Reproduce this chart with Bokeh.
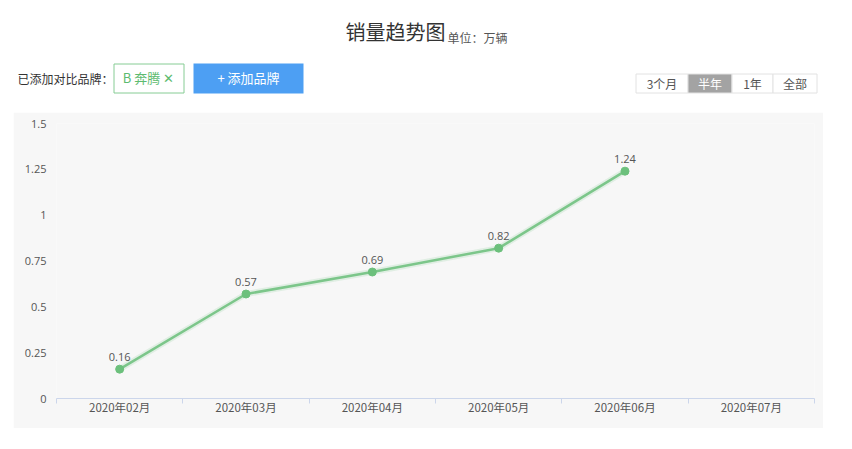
from bokeh.plotting import figure
from bokeh.models import Range1d, FixedTicker, LinearAxis, Spacer
from bokeh.layouts import column, row
from bokeh.core.properties import value
from bokeh.embed import file_html
from bokeh.resources import INLINE

# ---- data ----
months = ["2020年02月", "2020年03月", "2020年04月", "2020年05月", "2020年06月", "2020年07月"]
sales = [0.16, 0.57, 0.69, 0.82, 1.24]
y_ticks = [0, 0.25, 0.5, 0.75, 1, 1.25, 1.5]
y_tick_labels = ["0", "0.25", "0.5", "0.75", "1", "1.25", "1.5"]
title_text = "销量趋势图"
unit_text = "单位：万辆"
brand_prefix = "已添加对比品牌："
brand_tag = "B 奔腾 ✕"
add_button = "+ 添加品牌"
tabs = ["3个月", "半年", "1年", "全部"]
active_tab = "半年"

CJK = value("Noto Sans CJK SC")

# ---- header figure (coordinates in page pixels) ----
h = figure(width=852, height=112, x_range=Range1d(0, 852), y_range=Range1d(112, 0),
           output_backend="svg", toolbar_location=None, x_axis_type=None, y_axis_type=None,
           min_border=0, min_border_left=0, min_border_right=0, min_border_top=0, min_border_bottom=0)
h.outline_line_color = None
h.xgrid.visible = False
h.ygrid.visible = False
h.background_fill_color = "white"
h.border_fill_color = "white"

h.text(x=[345], y=[31], text=[title_text], text_font=CJK, text_font_size="20px",
       text_color="#333333", text_baseline="middle", text_align="left")
h.text(x=[447], y=[37], text=[unit_text], text_font=CJK, text_font_size="12px",
       text_color="#555555", text_baseline="middle", text_align="left")
h.text(x=[17], y=[78], text=[brand_prefix], text_font=CJK, text_font_size="12px",
       text_color="#333333", text_baseline="middle", text_align="left")

# brand tag
h.quad(left=[113.5], right=[183.5], top=[63.5], bottom=[92.5], fill_color="white",
       line_color="#86cc94", line_width=1)
h.text(x=[148], y=[77], text=[brand_tag], text_font=CJK, text_font_size="13px",
       text_color="#5dbb6f", text_baseline="middle", text_align="center")

# add button
h.quad(left=[193], right=[303], top=[63], bottom=[93], fill_color="#4d9ff3", line_color=None)
h.text(x=[248], y=[77], text=[add_button], text_font=CJK, text_font_size="13px",
       text_color="white", text_baseline="middle", text_align="center")

# tabs
tab_edges = [635.5, 687.5, 731.5, 772.5, 816.5]
for i, t in enumerate(tabs):
    active = (t == active_tab)
    h.quad(left=[tab_edges[i]], right=[tab_edges[i + 1]], top=[73.5], bottom=[92.5],
           fill_color="#a3a3a3" if active else "white", line_color="#e2e2e2", line_width=1)
    h.text(x=[(tab_edges[i] + tab_edges[i + 1]) / 2], y=[82.5], text=[t], text_font=CJK,
           text_font_size="12px", text_color="white" if active else "#555555",
           text_baseline="middle", text_align="center")

# ---- chart figure ----
n = len(months)
xs = [i + 0.5 for i in range(len(sales))]
panel = "#f7f7f7"
p = figure(width=810, height=316, x_range=Range1d(0, n), y_range=Range1d(0, 1.5),
           output_backend="svg", toolbar_location=None, x_axis_type=None, y_axis_type=None,
           min_border_left=43, min_border_right=9, min_border_top=11, min_border_bottom=30)
p.background_fill_color = panel
p.border_fill_color = panel
p.outline_line_color = None

xaxis = LinearAxis(ticker=FixedTicker(ticks=[i + 0.5 for i in range(n)],
                                      minor_ticks=list(range(n + 1))))
xaxis.major_label_overrides = {i + 0.5: m for i, m in enumerate(months)}
xaxis.major_tick_line_color = None
xaxis.major_tick_out = 0
xaxis.major_tick_in = 0
xaxis.minor_tick_line_color = "#ccd6eb"
xaxis.minor_tick_out = 5
xaxis.minor_tick_in = 0
xaxis.axis_line_color = "#ccd6eb"
xaxis.major_label_text_font = "Noto Sans CJK SC"
xaxis.major_label_text_font_size = "11.5px"
xaxis.major_label_text_color = "#555555"
xaxis.major_label_standoff = -5
p.add_layout(xaxis, "below")

yaxis = LinearAxis(ticker=FixedTicker(ticks=y_ticks, minor_ticks=[]))
yaxis.major_label_overrides = {t: l for t, l in zip(y_ticks, y_tick_labels)}
yaxis.axis_line_color = None
yaxis.major_tick_line_color = None
yaxis.major_tick_out = 0
yaxis.major_tick_in = 0
yaxis.major_label_text_font = "Open Sans"
yaxis.major_label_text_font_size = "11px"
yaxis.major_label_text_color = "#555555"
yaxis.major_label_standoff = 10
p.add_layout(yaxis, "left")

p.ygrid.ticker = FixedTicker(ticks=y_ticks)
p.ygrid.grid_line_color = "#c9c9c9"
p.ygrid.grid_line_width = 1
p.xgrid.visible = False

p.line(xs, sales, line_color="#7cc68a", line_width=6, line_alpha=0.18)
p.line(xs, sales, line_color="#7cc68a", line_width=2.5)
p.scatter(xs, sales, size=8, fill_color="#6cc07c", line_color="#6cc07c")
p.text(xs, sales, text=[f"{v:.2f}" for v in sales], text_font=value("Open Sans"),
       text_font_size="11px", text_color="#555555", text_align="center",
       text_baseline="bottom", y_offset=-8)

layout = column(h, row(Spacer(width=13), p))
open("out.html", "w").write(file_html(layout, INLINE))
